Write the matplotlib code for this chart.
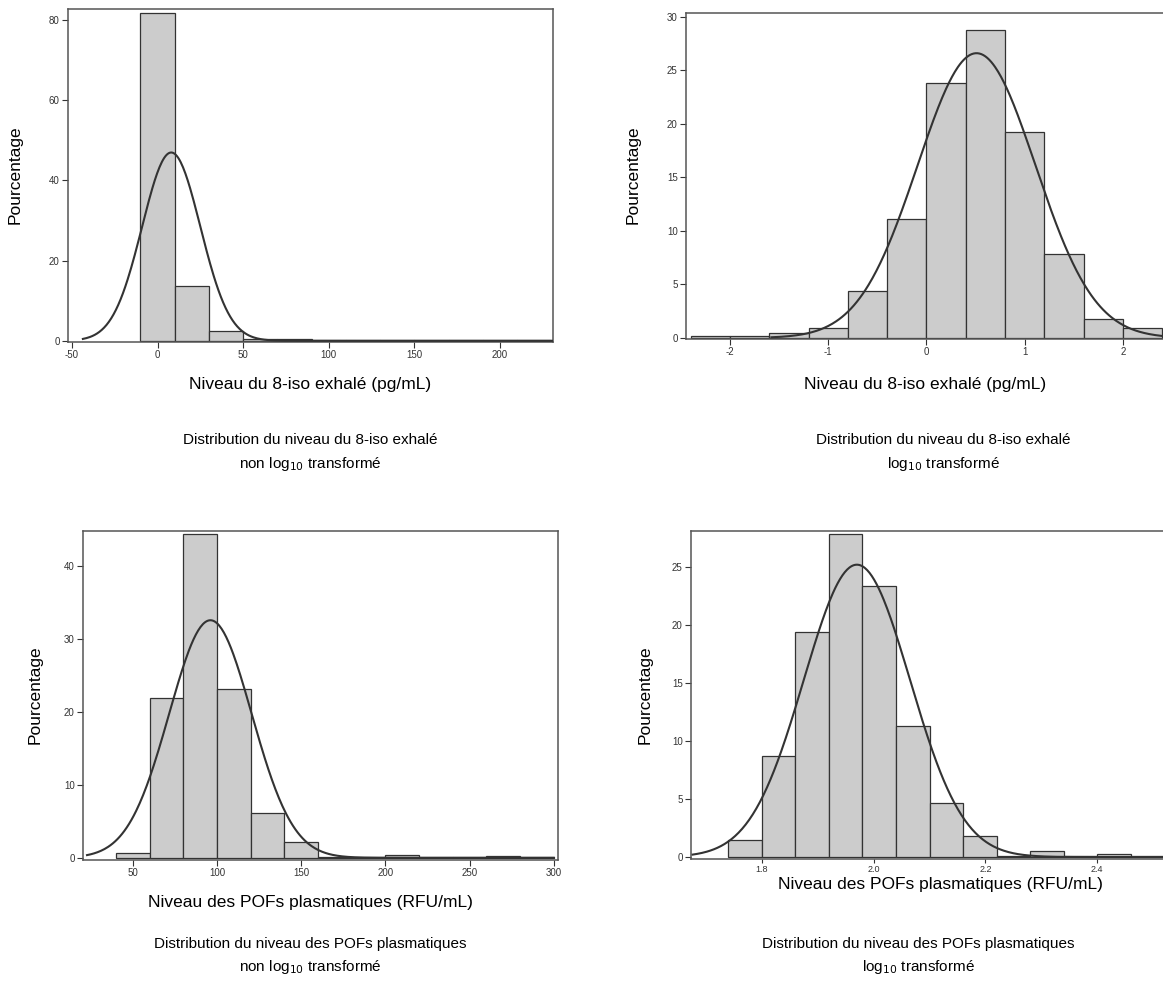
"""Four histograms with normal overlay: 8-iso exhalé and POFs plasmatiques, raw vs log10."""
import matplotlib
matplotlib.use("Agg")
import matplotlib.pyplot as plt
import numpy as np

plt.rcParams["font.family"] = ["Liberation Sans", "DejaVu Sans"]
plt.rcParams["axes.unicode_minus"] = False

W, H = 1163, 1005

# panel 1: 8-iso exhalé, non transformé (bins of 20 from -10)
ISO_EDGES = [-10, 10, 30, 50, 70, 90, 110, 130, 150, 170, 190, 210, 230]
ISO_PCT = [81.8, 13.7, 2.5, 0.4, 0.5, 0.2, 0.2, 0.2, 0.1, 0.1, 0.1, 0.3]
ISO_FIT = (8.0, 17.0)          # mean, sd of the normal overlay
ISO_XTICKS = [-50, 0, 50, 100, 150, 200]
ISO_YTICKS = [0, 20, 40, 60, 80]

# panel 2: 8-iso exhalé, log10 (bins of 0.4 from -2.4)
LISO_EDGES = [-2.4, -2.0, -1.6, -1.2, -0.8, -0.4, 0.0, 0.4, 0.8, 1.2, 1.6, 2.0, 2.4]
LISO_PCT = [0.2, 0.2, 0.47, 0.93, 4.35, 11.1, 23.85, 28.75, 19.2, 7.83, 1.8, 0.9]
LISO_FIT = (0.51, 0.60)
LISO_XTICKS = [-2, -1, 0, 1, 2]
LISO_YTICKS = [0, 5, 10, 15, 20, 25, 30]

# panel 3: POFs plasmatiques, non transformé (bins of 20 from 40)
POF_EDGES = [40, 60, 80, 100, 120, 140, 160, 180, 200, 220, 240, 260, 280, 300]
POF_PCT = [0.7, 21.9, 44.4, 23.2, 6.2, 2.1, 0.1, 0.1, 0.35, 0.05, 0.15, 0.25, 0.1]
POF_FIT = (96.0, 24.5)
POF_XTICKS = [50, 100, 150, 200, 250, 300]
POF_YTICKS = [0, 10, 20, 30, 40]

# panel 4: POFs plasmatiques, log10 (bins of 0.06 from 1.74)
LPOF_EDGES = [1.74, 1.80, 1.86, 1.92, 1.98, 2.04, 2.10, 2.16, 2.22, 2.28, 2.34, 2.40, 2.46, 2.52]
LPOF_PCT = [1.44, 8.73, 19.4, 27.8, 23.4, 11.3, 4.67, 1.79, 0.1, 0.5, 0.1, 0.25, 0.1]
LPOF_FIT = (1.97, 0.095)
LPOF_XTICKS = [1.8, 2.0, 2.2, 2.4]
LPOF_YTICKS = [0, 5, 10, 15, 20, 25]

XLAB_ISO = "Niveau du 8-iso exhalé (pg/mL)"
XLAB_POF = "Niveau des POFs plasmatiques (RFU/mL)"
CAP_ISO = "Distribution du niveau du 8-iso exhalé"
CAP_POF = "Distribution du niveau des POFs plasmatiques"
CAP_RAW = "non log$_{10}$ transformé"
CAP_LOG = "log$_{10}$ transformé"


def box(left, top, right, bottom):
    return [left / W, 1 - bottom / H, (right - left) / W, (bottom - top) / H]


def hist_panel(ax, edges, pct, fit, curve_span, xlim, ylim, xticks, yticks, fmt=None, open_right=False):
    edges = np.asarray(edges)
    ax.bar(edges[:-1], pct, width=np.diff(edges), align="edge",
           facecolor="#cccccc", edgecolor="#333333", linewidth=0.9, zorder=2)
    mu, sd = fit
    bw = edges[1] - edges[0]
    xs = np.linspace(curve_span[0], curve_span[1], 400)
    ys = 100 * bw * np.exp(-0.5 * ((xs - mu) / sd) ** 2) / (sd * np.sqrt(2 * np.pi))
    ax.plot(xs, ys, color="#333333", lw=1.5, zorder=3)
    ax.set_xlim(*xlim)
    ax.set_ylim(*ylim)
    ax.set_xticks(xticks)
    if fmt:
        ax.set_xticklabels([fmt.format(t) for t in xticks])
    ax.set_yticks(yticks)
    ax.tick_params(direction="out", length=4, width=0.8, labelsize=7,
                   colors="#333333", pad=2)
    for s in ax.spines.values():
        s.set_color("#555555")
        s.set_linewidth(1.1)
    if open_right:
        ax.spines["right"].set_visible(False)


def label(x, y, s, **kw):
    fig.text(x / W, 1 - y / H, s, ha="center", va="center", color="black", **kw)


fig = plt.figure(figsize=(W / 100, H / 100), dpi=100)
fig.patch.set_facecolor("white")

ax1 = fig.add_axes(box(68, 9, 553, 342))
hist_panel(ax1, ISO_EDGES, ISO_PCT, ISO_FIT, (-43.6, 231), (-52.3, 231), (-0.3, 82.7),
           ISO_XTICKS, ISO_YTICKS)

ax2 = fig.add_axes(box(686, 13, 1163, 339))
hist_panel(ax2, LISO_EDGES, LISO_PCT, LISO_FIT, (-1.58, 2.41), (-2.45, 2.41), (-0.1, 30.35),
           LISO_XTICKS, LISO_YTICKS, open_right=True)

ax3 = fig.add_axes(box(83, 531, 558, 860))
hist_panel(ax3, POF_EDGES, POF_PCT, POF_FIT, (22.7, 300), (20.3, 302.5), (-0.3, 44.8),
           POF_XTICKS, POF_YTICKS)

ax4 = fig.add_axes(box(691, 531, 1163, 859))
hist_panel(ax4, LPOF_EDGES, LPOF_PCT, LPOF_FIT, (1.676, 2.518), (1.673, 2.518), (-0.17, 28.1),
           LPOF_XTICKS, LPOF_YTICKS, fmt="{:.1f}", open_right=True)
ax4.tick_params(axis="x", length=3, pad=1, labelsize=6.5)

# y labels
for x, y in [(15, 175), (633, 175), (35, 695), (645, 695)]:
    label(x, y, "Pourcentage", fontsize=12.5, rotation=90)

# x labels
label(310, 385, XLAB_ISO, fontsize=12.5)
label(925, 385, XLAB_ISO, fontsize=12.5)
label(310, 902, XLAB_POF, fontsize=12.5)
label(940, 884, XLAB_POF, fontsize=12.5)

# captions
label(310, 440, CAP_ISO, fontsize=11)
label(310, 464, CAP_RAW, fontsize=11)
label(943, 440, CAP_ISO, fontsize=11)
label(943, 464, CAP_LOG, fontsize=11)
label(310, 944, CAP_POF, fontsize=11)
label(310, 967, CAP_RAW, fontsize=11)
label(918, 944, CAP_POF, fontsize=11)
label(918, 967, CAP_LOG, fontsize=11)

fig.savefig("out.png", dpi=100, facecolor="white")
plt.close(fig)
